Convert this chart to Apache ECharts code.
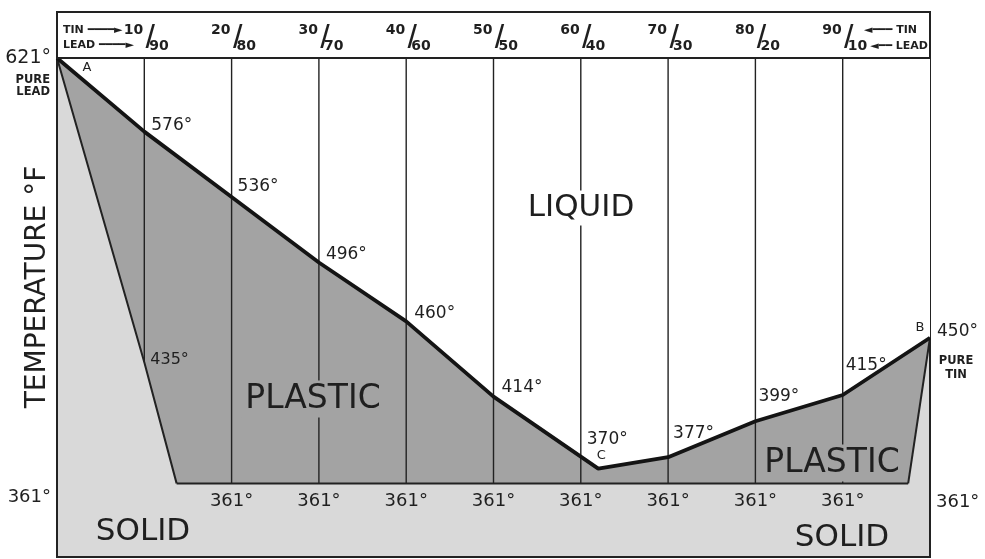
<!DOCTYPE html>
<html>
<head>
<meta charset="utf-8">
<script src="https://cdn.jsdelivr.net/npm/echarts@6/dist/echarts.min.js"></script>
<style>
  html, body { margin: 0; padding: 0; background: #ffffff; }
  #chart { width: 985px; height: 559px; }
</style>
</head>
<body>
<div id="chart"></div>
<script>
// Tin–lead solder diagram: percent tin across, temperature in °F up.
const tinPct        = [0, 10, 20, 30, 40, 50, 62, 70, 80, 90, 100];
const liquidusF     = [621, 576, 536, 496, 460, 414, 370, 377, 399, 415, 450];
const leadSolidusTin = [0, 10, 13.7];
const leadSolidusF   = [621, 435, 361];
const tinSolidusTin  = [100, 97.5];
const tinSolidusF    = [450, 361];
const eutecticF      = 361;
const gridTin        = [10, 20, 30, 40, 50, 60, 70, 80, 90];
const headerTin      = ['10', '20', '30', '40', '50', '60', '70', '80', '90'];
const headerLead     = ['90', '80', '70', '60', '50', '40', '30', '20', '10'];
const eutecticTicks  = [20, 30, 40, 50, 60, 70, 80, 90];
const pointNames     = ['A', 'C', 'B'];

const INK = '#222222';
const TEXT = '#1f1f1f';
const PLASTIC = '#a3a3a3';
const SOLID = '#d9d9d9';
const FONT = '"DejaVu Sans", "Noto Sans", sans-serif';

const pairs = (xs, ys) => xs.map((x, i) => [x, ys[i]]);
const liquidus = pairs(tinPct, liquidusF);
const leadSolidus = pairs(leadSolidusTin, leadSolidusF);
const tinSolidus = pairs(tinSolidusTin, tinSolidusF);
const topF = liquidusF[0];

// lower end of each vertical guide: the lead solidus where it lies above the eutectic, else the eutectic
function lowerBoundAt(t) {
  for (let i = 0; i < leadSolidus.length - 1; i++) {
    const [x0, y0] = leadSolidus[i], [x1, y1] = leadSolidus[i + 1];
    if (t >= x0 && t <= x1) return y0 + (y1 - y0) * (t - x0) / (x1 - x0);
  }
  return eutecticF;
}

const liquidPoly = liquidus.concat([[100, topF], [0, topF]]);
const plasticPoly = liquidus
  .concat(tinSolidus.slice(1))
  .concat([[leadSolidusTin[leadSolidusTin.length - 1], eutecticF]])
  .concat(leadSolidus.slice(1, -1).reverse());

function polygonSeries(pts, fill, z) {
  return {
    type: 'custom', coordinateSystem: 'cartesian2d', silent: true, z,
    data: [[0, topF]],
    renderItem: (params, api) => ({
      type: 'polygon',
      shape: { points: pts.map(p => api.coord(p)) },
      style: { fill }
    })
  };
}

function thinLine(pts, width) {
  return {
    type: 'line', data: pts, symbol: 'none', silent: true, z: 4,
    lineStyle: { color: INK, width }
  };
}

// text-only scatter layer (no visible symbols, full opacity)
function labelLayer(data, label) {
  return {
    type: 'scatter', symbolSize: 0, silent: true, z: 6,
    itemStyle: { opacity: 1 },
    data, label
  };
}

// label placement beside each liquidus point: [dx, dy, align, verticalAlign]
const liqPlace = [
  [-6, 0, 'right', 'middle'],
  [7, 2, 'left', 'bottom'],
  [6, -2, 'left', 'bottom'],
  [7, 1, 'left', 'bottom'],
  [8, 1, 'left', 'bottom'],
  [8, -1, 'left', 'bottom'],
  [9, -21, 'center', 'bottom'],
  [5, -15, 'left', 'bottom'],
  [3, -16, 'left', 'bottom'],
  [3, -21, 'left', 'bottom'],
  [7, -6, 'left', 'middle']
];

const valueLabel = (size) => ({
  show: true, color: TEXT, fontFamily: FONT, fontSize: size, opacity: 1,
  textBorderWidth: 0, textBorderColor: 'transparent',
  formatter: p => p.value[1] + '°'
});

const option = {
  animation: false,
  grid: {
    left: 57, right: 55, top: 58, bottom: 2,
    show: true, backgroundColor: SOLID, borderColor: INK, borderWidth: 2
  },
  xAxis: { type: 'value', min: 0, max: 100, show: false },
  yAxis: { type: 'value', min: 316, max: 621, show: false },
  series: [
    polygonSeries(plasticPoly, PLASTIC, 1),
    polygonSeries(liquidPoly, '#ffffff', 1),
    {
      type: 'custom', coordinateSystem: 'cartesian2d', silent: true, z: 3,
      data: gridTin.map(t => [t, lowerBoundAt(t)]),
      renderItem: (params, api) => {
        const a = api.coord([api.value(0), topF]);
        const b = api.coord([api.value(0), api.value(1)]);
        return {
          type: 'line',
          shape: { x1: a[0], y1: a[1], x2: b[0], y2: b[1] },
          style: { stroke: INK, lineWidth: 1.4 }
        };
      }
    },
    thinLine(leadSolidus, 2),
    thinLine(tinSolidus, 2),
    thinLine([[leadSolidusTin[leadSolidusTin.length - 1], eutecticF], [tinSolidusTin[1], eutecticF]], 2),
    {
      type: 'line', data: liquidus, symbol: 'none', silent: true, z: 5,
      lineStyle: { color: '#141414', width: 3.8 }
    },
    // temperatures along the liquidus
    labelLayer(
      liquidus.map((p, i) => ({
        value: p,
        label: {
          position: [liqPlace[i][0], liqPlace[i][1]],
          align: liqPlace[i][2], verticalAlign: liqPlace[i][3],
          fontSize: i === 0 ? 19 : 17
        }
      })),
      valueLabel(17)
    ),
    // lead solidus break point
    labelLayer([leadSolidus[1]],
      Object.assign(valueLabel(16), { position: [6, -2], align: 'left', verticalAlign: 'middle' })),
    // eutectic temperatures under the plastic band
    labelLayer(eutecticTicks.map(t => [t, eutecticF]),
      Object.assign(valueLabel(18), { position: [0, 18], align: 'center', verticalAlign: 'middle' })),
    labelLayer([
        { value: [0, eutecticF], label: { position: [-6, 14], align: 'right' } },
        { value: [100, eutecticF], label: { position: [6, 19], align: 'left' } }
      ],
      Object.assign(valueLabel(18), { verticalAlign: 'middle' })),
    // lettered points A, C, B
    labelLayer([
        { name: pointNames[0], value: liquidus[0], label: { position: [30, 10] } },
        { name: pointNames[1], value: liquidus[6], label: { position: [3, -13] } },
        { name: pointNames[2], value: liquidus[10], label: { position: [-10, -10] } }
      ],
      {
        show: true, formatter: p => p.name, color: TEXT, fontFamily: FONT, opacity: 1,
        textBorderWidth: 0, textBorderColor: 'transparent',
        fontSize: 13, align: 'center', verticalAlign: 'middle'
      })
  ]
};

const chart = echarts.init(document.getElementById('chart'), null, { renderer: 'canvas' });
chart.setOption(option);

// header band, tin / lead fractions and region names
const px = (t, f) => chart.convertToPixel({ gridIndex: 0 }, [t, f]);
const plotLeft = px(0, topF)[0], plotRight = px(100, topF)[0], plotTop = px(0, topF)[1];
const bandTop = 12;

const txt = (text, x, y, size, extra) => ({
  type: 'text', z: 20, silent: true,
  style: Object.assign({
    text, x, y, fill: TEXT, font: `${size}px ${FONT}`,
    align: 'left', verticalAlign: 'middle'
  }, extra || {})
});

const g = [{
  type: 'rect', z: 15, silent: true,
  shape: { x: plotLeft, y: bandTop, width: plotRight - plotLeft, height: plotTop - bandTop },
  style: { fill: '#ffffff', stroke: INK, lineWidth: 2 }
}];

gridTin.forEach((t, i) => {
  const x = px(t, topF)[0];
  g.push(txt(headerTin[i], x - 1, 30, 14, { align: 'right', font: `bold 14px ${FONT}` }));
  g.push(txt('/', x + 6, 39, 34, { align: 'center', font: `34px "Liberation Sans", sans-serif` }));
  g.push(txt(headerLead[i], x + 5, 46, 14, { align: 'left', font: `bold 14px ${FONT}` }));
});
g.push(txt('TIN ━━━━► ', plotLeft + 6, 30, 11, { font: `bold 11px ${FONT}` }));
g.push(txt('LEAD ━━━━►', plotLeft + 6, 45, 11, { font: `bold 11px ${FONT}` }));
g.push(txt('◄━━━ TIN', plotRight - 13, 30, 11, { align: 'right', font: `bold 11px ${FONT}` }));
g.push(txt('◄━━ LEAD', plotRight - 2, 46, 11, { align: 'right', font: `bold 11px ${FONT}` }));

g.push(txt('PURE\nLEAD', plotLeft - 7, 86, 12, { align: 'right', font: `bold 11.5px ${FONT}`, lineHeight: 12 }));
g.push(txt('PURE\nTIN', plotRight + 26, 368, 12, { align: 'center', font: `bold 11.5px ${FONT}`, lineHeight: 14 }));

g.push(txt('LIQUID', 581, 208, 31, { align: 'center', backgroundColor: '#ffffff', padding: [2, 4] }));
g.push(txt('PLASTIC', 313, 399, 33, { align: 'center', backgroundColor: PLASTIC, padding: [2, 4] }));
g.push(txt('PLASTIC', 832, 463, 33, { align: 'center', backgroundColor: PLASTIC, padding: [2, 4] }));
g.push(txt('SOLID', 143, 532, 31, { align: 'center' }));
g.push(txt('SOLID', 842, 538, 31, { align: 'center' }));
g.push({
  type: 'text', z: 20, silent: true, x: 38, y: 287, rotation: Math.PI / 2,
  style: { text: 'TEMPERATURE °F', x: 0, y: 0, fill: TEXT, font: `28px ${FONT}`, align: 'center', verticalAlign: 'middle' }
});

chart.setOption({ graphic: g });
</script>
</body>
</html>
